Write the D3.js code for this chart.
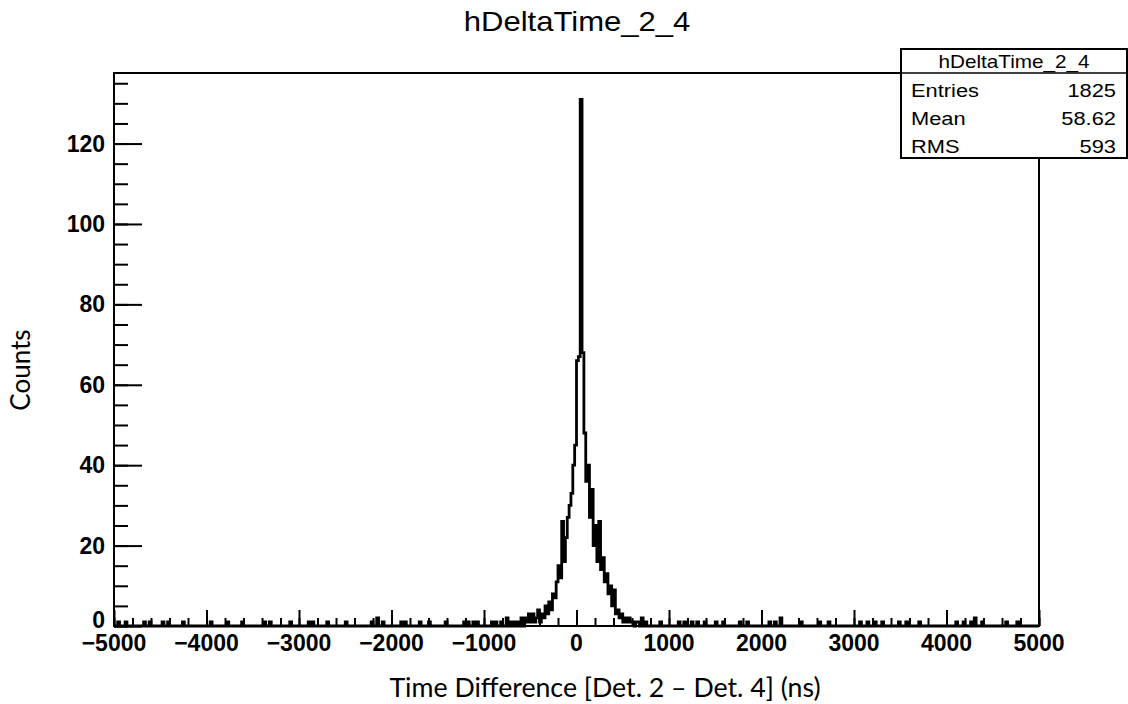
<!DOCTYPE html>
<html>
<head>
<meta charset="utf-8">
<script src="https://cdn.jsdelivr.net/npm/d3@7"></script>
<style>
	body { margin: 0; background: #fff; }
	text { fill: #000; }
</style>
</head>
<body>
<div id="histo"></div>
<script>
// histogram settings (20 ns bins, -5000..5000)
var histName = "hDeltaTime_2_4";
var xRange = [-5000, 5000];
var binWidth = 20;
var yTop = 137.55;

// central part, one value per 20 ns bin starting at coreStart
var coreStart = -500;
var coreCounts = [
	1, 3, 1, 2, 4, 1, 3, 2, 5, 3,
	6, 4, 8, 7, 11, 15, 12, 26, 16, 22,
	27, 30, 33, 40, 45,
	66, 67, 131, 68,
	48, 36, 40, 27, 34, 20, 25, 16, 26, 14,
	17, 11, 13, 8, 10, 5, 9, 3, 4, 2,
	3, 1, 2, 1, 2, 1, 1, 0, 1
];

// isolated entries far from the peak: [bin low edge, counts]
var tailEntries = [
	[-4960, 1], [-4880, 1], [-4680, 1], [-4620, 1], [-4480, 1], [-4420, 1], [-4260, 1],
	[-3960, 1], [-3780, 1], [-3620, 1], [-3380, 1], [-3320, 1], [-3100, 1], [-2900, 1],
	[-2860, 1], [-2700, 1], [-2500, 1], [-2220, 1], [-2160, 2], [-2100, 1], [-1900, 1],
	[-1860, 1], [-1700, 1], [-1600, 1], [-1420, 1], [-1220, 1], [-1180, 1], [-1120, 1],
	[-1080, 1], [-920, 1], [-880, 1], [-820, 1], [-760, 2], [-720, 1], [-680, 1],
	[-640, 1], [-600, 2], [-560, 2], [-540, 1], [-520, 3],
	[660, 1], [700, 2], [740, 1], [900, 1], [1100, 1], [1160, 1], [1240, 1], [1300, 1],
	[1380, 1], [1500, 1], [1580, 1], [1760, 1], [1840, 1], [2080, 1], [2140, 1],
	[2200, 2], [2420, 1], [2620, 1], [2720, 1], [3060, 1], [3140, 1], [3220, 1],
	[3300, 1], [3480, 1], [3560, 1], [3700, 1], [4100, 1], [4180, 1], [4260, 1],
	[4300, 2], [4380, 1], [4640, 1], [4760, 1]
];

var xTicks = [-5000, -4000, -3000, -2000, -1000, 0, 1000, 2000, 3000, 4000, 5000];
var yTicks = [0, 20, 40, 60, 80, 100, 120];

var statLabels = ["Entries", "Mean", "RMS"];
var statValues = ["1825", "58.62", "593"];

var xTitle = "Time Difference [Det. 2 \u2013 Det. 4] (ns)";
var yTitle = "Counts";

function drawHisto()
{
	var dim = {
		width: 1128,
		height: 704,
		frame: { left: 114, right: 1039, top: 73, bottom: 626 }
	};

	var nBins = (xRange[1] - xRange[0]) / binWidth;
	var bins = d3.range(nBins).map(i => ({ x0: xRange[0] + i * binWidth, c: 0 }));
	coreCounts.forEach((c, i) => {
		bins[(coreStart - xRange[0]) / binWidth + i].c = c;
	});
	tailEntries.forEach(d => {
		bins[(d[0] - xRange[0]) / binWidth].c += d[1];
	});

	var xScale = d3.scaleLinear()
		.domain(xRange)
		.range([dim.frame.left, dim.frame.right]);
	var yScale = d3.scaleLinear()
		.domain([0, yTop])
		.range([dim.frame.bottom, dim.frame.top]);

	var svg = d3.select("#histo")
		.append("svg")
		.attr("width", dim.width)
		.attr("height", dim.height);

	var rootFont = "'Liberation Sans', Arial, Helvetica, sans-serif";

	// title
	svg.append("text")
		.attr("transform", "translate(577,31) scale(1.15,1)")
		.attr("text-anchor", "middle")
		.style("font-family", rootFont)
		.style("font-size", "27px")
		.text(histName);

	// histogram outline
	var pts = bins.map(b => [b.x0, b.c]);
	pts.push([xRange[1], bins[nBins - 1].c]);
	var line = d3.line()
		.x(d => xScale(d[0]))
		.y(d => yScale(d[1]))
		.curve(d3.curveStepAfter);
	svg.append("path")
		.datum(pts)
		.attr("d", line)
		.attr("fill", "none")
		.attr("stroke", "#000")
		.attr("stroke-width", 2.8);

	// frame
	svg.append("rect")
		.attr("x", dim.frame.left)
		.attr("y", dim.frame.top)
		.attr("width", dim.frame.right - dim.frame.left)
		.attr("height", dim.frame.bottom - dim.frame.top)
		.attr("fill", "none")
		.attr("stroke", "#000")
		.attr("stroke-width", 2);

	// x axis ticks drawn upward from the frame bottom
	svg.append("g")
		.attr("transform", `translate(0,${dim.frame.bottom})`)
		.call(d3.axisTop(xScale).tickValues(xTicks).tickSize(16).tickFormat(""))
		.call(g => g.select(".domain").remove())
		.selectAll("line").attr("stroke-width", 2);
	svg.append("g")
		.attr("transform", `translate(0,${dim.frame.bottom})`)
		.call(d3.axisTop(xScale).ticks(50).tickSize(8).tickFormat(""))
		.call(g => g.select(".domain").remove())
		.selectAll("line").attr("stroke-width", 2);

	svg.append("g")
		.selectAll("text")
		.data(xTicks)
		.join("text")
		.attr("x", d => xScale(d))
		.attr("y", 651)
		.attr("text-anchor", "middle")
		.style("font-family", rootFont)
		.style("font-weight", "bold")
		.style("font-size", "23px")
		.text(d => d < 0 ? "\u2212" + Math.abs(d) : d);

	// y axis ticks drawn to the right of the frame left edge
	svg.append("g")
		.attr("transform", `translate(${dim.frame.left},0)`)
		.call(d3.axisRight(yScale).tickValues(yTicks).tickSize(28).tickFormat(""))
		.call(g => g.select(".domain").remove())
		.selectAll("line").attr("stroke-width", 2);
	svg.append("g")
		.attr("transform", `translate(${dim.frame.left},0)`)
		.call(d3.axisRight(yScale).tickValues(d3.range(0, yTop, 5)).tickSize(14).tickFormat(""))
		.call(g => g.select(".domain").remove())
		.selectAll("line").attr("stroke-width", 2);

	svg.append("g")
		.selectAll("text")
		.data(yTicks)
		.join("text")
		.attr("x", 105)
		.attr("y", d => yScale(d) + (d == 0 ? 2 : 8))
		.attr("text-anchor", "end")
		.style("font-family", rootFont)
		.style("font-weight", "bold")
		.style("font-size", "23px")
		.text(d => d);

	// axis titles
	var labelFont = "Lato, 'Open Sans', sans-serif";
	svg.append("text")
		.attr("x", 605)
		.attr("y", 697)
		.attr("text-anchor", "middle")
		.style("font-family", labelFont)
		.style("font-size", "26.7px")
		.text(xTitle);
	svg.append("text")
		.attr("transform", "translate(30,370) rotate(-90)")
		.attr("text-anchor", "middle")
		.style("font-family", labelFont)
		.style("font-size", "26px")
		.text(yTitle);

	// stats box
	var box = { x: 901, y: 49, w: 226, h: 109, head: 24 };
	var stats = svg.append("g");
	stats.append("rect")
		.attr("x", box.x)
		.attr("y", box.y)
		.attr("width", box.w)
		.attr("height", box.h)
		.attr("fill", "#fff")
		.attr("stroke", "#000")
		.attr("stroke-width", 2);
	stats.append("line")
		.attr("x1", box.x)
		.attr("x2", box.x + box.w)
		.attr("y1", box.y + box.head)
		.attr("y2", box.y + box.head)
		.attr("stroke", "#000")
		.attr("stroke-width", 1.5);
	stats.append("text")
		.attr("transform", `translate(${box.x + box.w / 2},${box.y + 19}) scale(1.15,1)`)
		.attr("text-anchor", "middle")
		.style("font-family", rootFont)
		.style("font-size", "18px")
		.text(histName);
	stats.selectAll("text.lab")
		.data(statLabels)
		.join("text")
		.attr("class", "lab")
		.attr("transform", (d, i) => `translate(${box.x + 10},${97 + i * 28}) scale(1.15,1)`)
		.style("font-family", rootFont)
		.style("font-size", "19px")
		.text(d => d);
	stats.selectAll("text.val")
		.data(statValues)
		.join("text")
		.attr("class", "val")
		.attr("transform", (d, i) => `translate(${box.x + box.w - 11},${97 + i * 28}) scale(1.15,1)`)
		.attr("text-anchor", "end")
		.style("font-family", rootFont)
		.style("font-size", "19px")
		.text(d => d);
}

drawHisto();
</script>
</body>
</html>
